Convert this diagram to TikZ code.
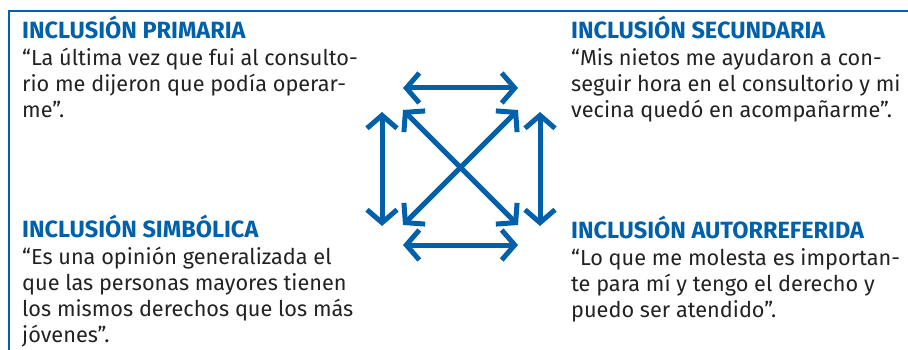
\documentclass[tikz,border=0pt]{standalone}
\usepackage{fontspec}
\setmainfont{Fira Sans}
\usetikzlibrary{arrows.meta}
\definecolor{incblue}{HTML}{0061AA}
\definecolor{inktext}{HTML}{222222}
\newcommand{\titulo}[1]{{\color{incblue}\fontsize{23.5}{26}\selectfont\bfseries #1}}
\begin{document}
\begin{tikzpicture}[x=1pt, y=-1pt,
    block/.style = {anchor=base west, inner sep=0pt, align=left, text=inktext,
                    font=\fontsize{21.7}{26}\selectfont},
    arrow/.style = {incblue, line width=5pt,
                    {Straight Barb[length=13pt,width=30pt]}-{Straight Barb[length=13pt,width=30pt]}}]
                \useasboundingbox (0,0) rectangle (908,350);
                % frame
                \draw[incblue, line width=2pt] (9,350) -- (9,11) -- (908,11);

                % the four kinds of inclusion (placed at the baseline of the last line)
                \node[block] (prim) at (22,118)
                    {\titulo{INCLUSIÓN PRIMARIA}\\[1pt]
                     “La última vez que fui al consulto-\\
                     rio me dijeron que podía operar-\\
                     me”.};
                \node[block] (secu) at (571,118)
                    {\titulo{INCLUSIÓN SECUNDARIA}\\[1pt]
                     “Mis nietos me ayudaron a con-\\
                     seguir hora en el consultorio y mi\\
                     vecina quedó en acompañarme”.};
                \node[block] (simb) at (22,342)
                    {\titulo{INCLUSIÓN SIMBÓLICA}\\[1pt]
                     “Es una opinión generalizada el\\
                     que las personas mayores tienen\\
                     los mismos derechos que los más\\
                     jóvenes”.};
                \node[block] (auto) at (571,317)
                    {\titulo{INCLUSIÓN AUTORREFERIDA}\\[1pt]
                     “Lo que me molesta es importan-\\
                     te para mí y tengo el derecho y\\
                     puedo ser atendido”.};

                % arrow ends
                \coordinate (topL) at (403,88);
                \coordinate (topR) at (518,88);
                \coordinate (botL) at (403,245);
                \coordinate (botR) at (518,245);
                \coordinate (lefT) at (382,112);
                \coordinate (lefB) at (382,226);
                \coordinate (rigT) at (540,112);
                \coordinate (rigB) at (540,226);
                \coordinate (crTL) at (403,110);
                \coordinate (crTR) at (518,110);
                \coordinate (crBL) at (403,225);
                \coordinate (crBR) at (518,225);

                \draw[arrow] (topL) -- (topR);
                \draw[arrow] (botL) -- (botR);
                \draw[arrow] (lefT) -- (lefB);
                \draw[arrow] (rigT) -- (rigB);
                \draw[arrow] (crTL) -- (crBR);
                \draw[arrow] (crBL) -- (crTR);
\end{tikzpicture}
\end{document}
